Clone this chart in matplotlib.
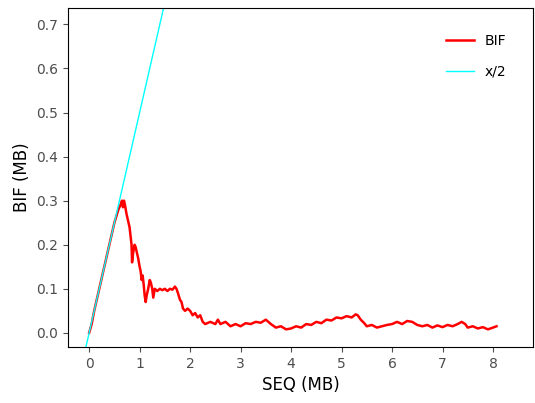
import matplotlib.pyplot as plt
import numpy as np

# BIF curve (x in MB, y in MB)
seq = [0.0, 0.05, 0.1, 0.2, 0.3, 0.4, 0.5, 0.58, 0.62, 0.65, 0.67, 0.69, 0.71, 0.74, 0.77, 0.8, 0.82,
       0.84, 0.85, 0.87, 0.9, 0.92, 0.95, 0.97, 1.0, 1.02, 1.04, 1.06, 1.08, 1.1, 1.12, 1.14, 1.17,
       1.2, 1.22, 1.25, 1.27, 1.3, 1.35, 1.4, 1.45, 1.5, 1.55, 1.6, 1.65, 1.7, 1.73, 1.76, 1.8,
       1.83, 1.86, 1.9, 1.95, 2.0, 2.05, 2.1, 2.15, 2.2, 2.25, 2.3, 2.4, 2.5, 2.55, 2.6, 2.7,
       2.8, 2.9, 3.0, 3.1, 3.2, 3.3, 3.4, 3.5, 3.55, 3.6, 3.7, 3.8, 3.9, 4.0, 4.1, 4.2, 4.3,
       4.4, 4.5, 4.6, 4.7, 4.8, 4.9, 5.0, 5.1, 5.2, 5.28, 5.32, 5.38, 5.45, 5.5, 5.6, 5.7,
       5.8, 5.9, 6.0, 6.1, 6.2, 6.3, 6.4, 6.5, 6.6, 6.7, 6.8, 6.9, 7.0, 7.1, 7.2, 7.3, 7.38,
       7.45, 7.5, 7.6, 7.7, 7.8, 7.9, 8.0, 8.07]
bif = [0.0, 0.02, 0.05, 0.1, 0.15, 0.2, 0.25, 0.28, 0.29, 0.3, 0.285, 0.3, 0.29, 0.27, 0.255, 0.24, 0.22,
       0.2, 0.16, 0.18, 0.2, 0.195, 0.18, 0.17, 0.15, 0.14, 0.12, 0.13, 0.11, 0.085, 0.07, 0.085, 0.1,
       0.12, 0.115, 0.1, 0.08, 0.1, 0.095, 0.1, 0.097, 0.1, 0.095, 0.1, 0.098, 0.105, 0.1, 0.09, 0.075,
       0.07, 0.055, 0.05, 0.055, 0.05, 0.04, 0.045, 0.035, 0.04, 0.025, 0.02, 0.025, 0.02, 0.03, 0.02, 0.025,
       0.015, 0.02, 0.015, 0.022, 0.02, 0.025, 0.023, 0.03, 0.025, 0.02, 0.012, 0.015, 0.008, 0.01, 0.015, 0.012, 0.02,
       0.018, 0.025, 0.022, 0.03, 0.028, 0.035, 0.033, 0.038, 0.035, 0.042, 0.04, 0.03, 0.022, 0.015, 0.018, 0.012,
       0.015, 0.018, 0.02, 0.025, 0.02, 0.027, 0.025, 0.018, 0.015, 0.018, 0.012, 0.017, 0.013, 0.018, 0.015, 0.02, 0.025,
       0.02, 0.012, 0.015, 0.01, 0.013, 0.008, 0.012, 0.015]
ref_x = [-0.08, 1.6]

fig, ax = plt.subplots(figsize=(5.35, 4.03), dpi=100)
ax.plot(seq, bif, color='red', lw=1.8, label='BIF')
ax.plot(ref_x, np.array(ref_x) / 2, color='cyan', lw=1, label='x/2')

ax.set_xlim(-0.42, 8.79)
ax.set_ylim(-0.032, 0.737)
ax.set_xticks(range(9))
ax.set_yticks(np.arange(0, 0.71, 0.1))
ax.set_yticklabels([f'{v:.1f}' for v in np.arange(0, 0.71, 0.1)])
ax.set_xlabel('SEQ (MB)', fontsize=12)
ax.set_ylabel('BIF (MB)', fontsize=12)
ax.tick_params(colors='#4d4d4d', labelsize=10, direction='out')
ax.legend(frameon=False, loc='upper right', bbox_to_anchor=(0.97, 0.96), handlelength=2,
          labelspacing=1.2, fontsize=10)

plt.subplots_adjust(left=0.127, right=0.996, top=0.98, bottom=0.139)
plt.savefig('out.png')
